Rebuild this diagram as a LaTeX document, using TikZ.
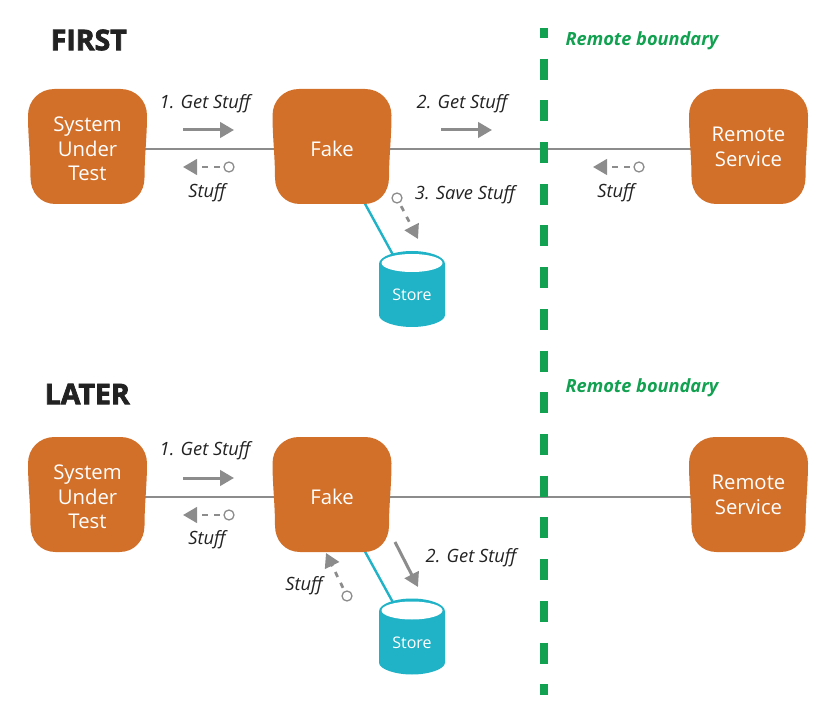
\documentclass[tikz,border=0pt]{standalone}
\usepackage{fontspec}
\setmainfont{Open Sans}
\newfontfamily\heavyf[BoldFeatures={FakeBold=2.6}]{Open Sans}
\usetikzlibrary{arrows.meta}
\pgfdeclarelayer{wires}
\pgfdeclarelayer{shapes}
\pgfsetlayers{wires,shapes,main}
\definecolor{orangeb}{HTML}{D2702A}
\definecolor{tealb}{HTML}{20B2C6}
\definecolor{greenb}{HTML}{12A150}
\definecolor{greyb}{HTML}{8C8C8C}
\definecolor{inkb}{HTML}{222222}
\newcommand\blobshape[2]{%
  \fill[orangeb,shift={(#1,#2)}] (-33,-57.5) -- (33,-57.5)
    .. controls (48,-57.5) and (59.5,-46) .. (59.5,-31)
    .. controls (59.5,-10) and (57,10) .. (57,31)
    .. controls (57,46) and (47,57.5) .. (32,57.5)
    -- (-32,57.5)
    .. controls (-47,57.5) and (-57,46) .. (-57,31)
    .. controls (-57,10) and (-59.5,-10) .. (-59.5,-31)
    .. controls (-59.5,-46) and (-48,-57.5) .. (-33,-57.5) -- cycle;}
\newcommand\storeshape[1]{%
  \fill[tealb,shift={(412,#1)}] (-33,-25) .. controls (-33,-33) and (-16,-38) .. (0,-38)
    .. controls (16,-38) and (33,-33) .. (33,-25)
    -- (33,26) .. controls (33,33) and (16,38) .. (0,38)
    .. controls (-16,38) and (-33,33) .. (-33,26) -- cycle;
  \fill[white,shift={(412,#1)}] (0,-26) ellipse [x radius=30.5, y radius=9];}
\tikzset{
  x=1pt,y=-1pt,
  boxnode/.style={inner sep=0pt,text=white,align=center,font=\fontsize{20.3}{24.7}\selectfont},
  storenode/.style={inner sep=0pt,text=white,font=\fontsize{16}{18}\selectfont},
  wire/.style={greyb,line width=1.3pt},
  tealwire/.style={tealb,line width=2.4pt},
  solidarrow/.style={greyb,line width=3pt,-{Triangle[length=14pt,width=15.5pt]}},
  dasharrow/.style={greyb,line width=2.7pt,dash pattern=on 5.5pt off 6.5pt,dash phase=8.5pt,-{Triangle[length=14pt,width=15.5pt]}},
  dot/.style={circle,draw=greyb,fill=white,line width=1.3pt,minimum size=10pt,inner sep=0pt},
  msg/.style={text=inkb,inner sep=0pt,font=\fontsize{18.3}{22}\selectfont\itshape},
  heading/.style={text=inkb,inner sep=0pt,anchor=west,font=\fontsize{28.5}{34}\selectfont\heavyf\bfseries},
  bound/.style={text=greenb,inner sep=0pt,font=\fontsize{18.2}{22}\selectfont\bfseries\itshape},
  boundline/.style={greenb,line width=8pt,dash pattern=on 21pt off 20.7pt,dash phase=11pt},
}
\begin{document}
\begin{tikzpicture}
\useasboundingbox (0,0) rectangle (831,722);
% boundary
\coordinate (btop) at (544,28);
\coordinate (bbot) at (544,695);
\draw[boundline] (btop) -- (bbot);
\node[bound] (rb1) at (642,41) {Remote boundary};
\node[bound] (rb2) at (642,388) {Remote boundary};
\node[heading] (first) at (50.5,40) {FIRST};
\node[heading] (later) at (44.5,394) {LATER};
% shapes
\begin{pgfonlayer}{shapes}
\blobshape{87.5}{146.5}
\blobshape{332}{146.5}
\blobshape{748.5}{146.5}
\blobshape{87.5}{494.5}
\blobshape{332}{494.5}
\blobshape{748.5}{494.5}
\storeshape{289}
\storeshape{636.5}
\end{pgfonlayer}
% nodes, first
\node[boxnode] (sut1) at (87.5,149) {System\\Under\\Test};
\node[boxnode] (fake1) at (332,149) {Fake};
\node[boxnode] (rem1) at (748.5,147) {Remote\\Service};
\node[storenode] (store1) at (412,295) {Store};
% nodes, later
\node[boxnode] (sut2) at (87.5,497) {System\\Under\\Test};
\node[boxnode] (fake2) at (332,497) {Fake};
\node[boxnode] (rem2) at (748.5,495) {Remote\\Service};
\node[storenode] (store2) at (412,642.5) {Store};
% wires
\begin{pgfonlayer}{wires}
\draw[wire] (sut1.center) -- (fake1.center);
\draw[wire] (fake1.center) -- (rem1.center |- fake1.center);
\draw[wire] (sut2.center) -- (fake2.center);
\draw[wire] (fake2.center) -- (rem2.center |- fake2.center);
\draw[tealwire] ([xshift=3pt]fake1.center) -- ([xshift=3pt]store1.center);
\draw[tealwire] ([xshift=3pt]fake2.center) -- ([xshift=3pt]store2.center);
\end{pgfonlayer}
% first messages
\coordinate (a1s) at (183,130); \coordinate (a1e) at (234,130);
\draw[solidarrow] (a1s) -- (a1e);
\node[msg] (l1) at (205,103.5) {1. Get Stuff};
\node[dot] (d1) at (229,167) {};
\coordinate (d1e) at (183,167);
\draw[dasharrow] (d1) -- (d1e);
\node[msg] (l2) at (207,192.5) {Stuff};
\coordinate (a2s) at (441,130); \coordinate (a2e) at (492,130);
\draw[solidarrow] (a2s) -- (a2e);
\node[msg] (l3) at (462,103.5) {2. Get Stuff};
\node[dot] (d2) at (639,167) {};
\coordinate (d2e) at (593,167);
\draw[dasharrow] (d2) -- (d2e);
\node[msg] (l4) at (616,192.5) {Stuff};
\node[dot] (d3) at (397,198) {};
\coordinate (d3e) at (418,239);
\draw[dasharrow] (d3) -- (d3e);
\node[msg] (l5) at (465,195) {3. Save Stuff};
% later messages
\coordinate (b1s) at (183,478); \coordinate (b1e) at (234,478);
\draw[solidarrow] (b1s) -- (b1e);
\node[msg] (m1) at (205,450.5) {1. Get Stuff};
\node[dot] (e1) at (229,515) {};
\coordinate (e1e) at (183,515);
\draw[dasharrow] (e1) -- (e1e);
\node[msg] (m2) at (207,539.5) {Stuff};
\coordinate (b2s) at (395,542); \coordinate (b2e) at (418,587);
\draw[solidarrow] (b2s) -- (b2e);
\node[msg] (m3) at (471,558) {2. Get Stuff};
\node[dot] (e2) at (347,596) {};
\coordinate (e2e) at (326,553);
\draw[dasharrow] (e2) -- (e2e);
\node[msg] (m4) at (304,586) {Stuff};
\end{tikzpicture}
\end{document}
